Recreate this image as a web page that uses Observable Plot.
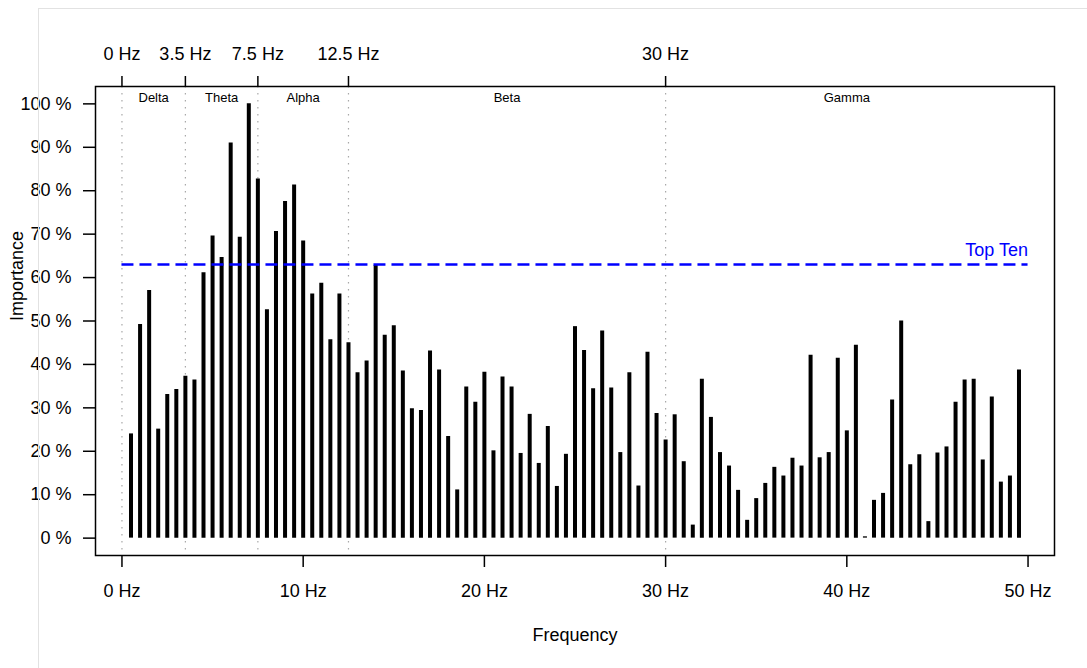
<!DOCTYPE html>
<html>
<head>
<meta charset="utf-8">
<script src="https://cdn.jsdelivr.net/npm/d3@7"></script>
<script src="https://cdn.jsdelivr.net/npm/@observablehq/plot@0.6"></script>
<style>
  html, body { margin: 0; padding: 0; background: #fff; overflow: hidden; }
  #wrap { position: relative; width: 1087px; height: 668px; }
  #edge { position: absolute; left: 38px; top: 8px; right: 0; bottom: 0; border-left: 1px solid #e2e2e2; border-top: 1px solid #e2e2e2; pointer-events: none; }
  #chart svg { display: block; }
</style>
</head>
<body>
<div id="wrap"><div id="edge"></div><div id="chart"></div></div>
<script>
const freq = [0.5,1,1.5,2,2.5,3,3.5,4,4.5,5,5.5,6,6.5,7,7.5,8,8.5,9,9.5,10,
  10.5,11,11.5,12,12.5,13,13.5,14,14.5,15,15.5,16,16.5,17,17.5,18,18.5,19,19.5,20,
  20.5,21,21.5,22,22.5,23,23.5,24,24.5,25,25.5,26,26.5,27,27.5,28,28.5,29,29.5,30,
  30.5,31,31.5,32,32.5,33,33.5,34,34.5,35,35.5,36,36.5,37,37.5,38,38.5,39,39.5,40,
  40.5,41,41.5,42,42.5,43,43.5,44,44.5,45,45.5,46,46.5,47,47.5,48,48.5,49,49.5];
const importance = [24,49.2,57,25.1,33.1,34.2,37.3,36.4,61.1,69.6,64.6,91,69.3,100,82.7,52.6,70.6,77.5,81.3,68.4,
  56.2,58.7,45.7,56.2,45,38.1,40.8,62.8,46.7,48.9,38.5,29.8,29.4,43.1,38.7,23.4,11.1,34.8,31.3,38.2,
  20.1,37.1,34.8,19.5,28.5,17.2,25.7,11.9,19.3,48.7,43.2,34.4,47.7,34.6,19.7,38.1,12,42.8,28.7,22.6,
  28.4,17.6,3,36.6,27.8,19.7,16.6,11,4.1,9.1,12.6,16.3,14.3,18.4,16.6,42.1,18.5,19.7,41.4,24.7,
  44.4,0.3,8.7,10.3,31.8,50,16.9,19.2,3.8,19.6,21,31.3,36.4,36.6,18,32.5,12.9,14.3,38.7];
const bandStart = [0, 3.5, 7.5, 12.5, 30];
const bandEnd = [3.5, 7.5, 12.5, 30, 50];
const bandNames = ["Delta", "Theta", "Alpha", "Beta", "Gamma"];
const xTicks = [0, 10, 20, 30, 40, 50];
const yTicks = [0, 10, 20, 30, 40, 50, 60, 70, 80, 90, 100];
const topTen = 63;
const topTenLabel = "Top Ten";
const xTitle = "Frequency";
const yTitle = "Importance";

const data = freq.map((f, i) => ({freq: f, value: importance[i]}));
const bands = bandNames.map((n, i) => ({name: n, mid: (bandStart[i] + bandEnd[i]) / 2}));
const font = "'Liberation Sans', Arial, Helvetica, sans-serif";

const chart = Plot.plot({
  width: 1087,
  height: 668,
  marginLeft: 95,
  marginRight: 33,
  marginTop: 86,
  marginBottom: 113,
  x: {domain: [-1.46, 51.46]},
  y: {domain: [-4, 104]},
  style: {fontFamily: font, fontSize: "18px", color: "black", background: "transparent"},
  marks: [
    Plot.ruleX(bandStart, {stroke: "#a8a8a8", strokeWidth: 1.2, strokeDasharray: "1.5,5.5"}),
    Plot.ruleX(data, {x: "freq", y1: 0, y2: "value", stroke: "black", strokeWidth: 4}),
    Plot.ruleY([topTen], {x1: 0, x2: 50, stroke: "blue", strokeWidth: 2.5, strokeDasharray: "12,6"}),
    Plot.text([topTenLabel], {x: 50, y: topTen, textAnchor: "end", lineAnchor: "middle", dy: -14, fill: "blue", fontSize: 18}),
    Plot.text(bands, {x: "mid", text: "name", frameAnchor: "top", lineAnchor: "middle", dy: 11, fontSize: 13, fill: "black"}),
    Plot.frame({stroke: "black", strokeWidth: 1.5}),
    Plot.axisY({ticks: yTicks, tickFormat: d => d + " %", tickSize: 12, tickPadding: 12, label: null, fontSize: 18, strokeWidth: 1.5}),
    Plot.axisX({anchor: "bottom", ticks: xTicks, tickFormat: d => d + " Hz", tickSize: 12, tickPadding: 17, label: null, fontSize: 18, strokeWidth: 1.5}),
    Plot.axisX({anchor: "top", ticks: bandStart, tickFormat: d => d + " Hz", tickSize: 11, tickPadding: 16, label: null, fontSize: 18, strokeWidth: 1.5}),
    Plot.text([yTitle], {frameAnchor: "left", lineAnchor: "middle", dx: -78, rotate: -90, fontSize: 18, fill: "black"}),
    Plot.text([xTitle], {frameAnchor: "bottom", lineAnchor: "middle", dy: 80, fontSize: 18, fill: "black"})
  ]
});
document.getElementById("chart").appendChild(chart);
</script>
</body>
</html>
